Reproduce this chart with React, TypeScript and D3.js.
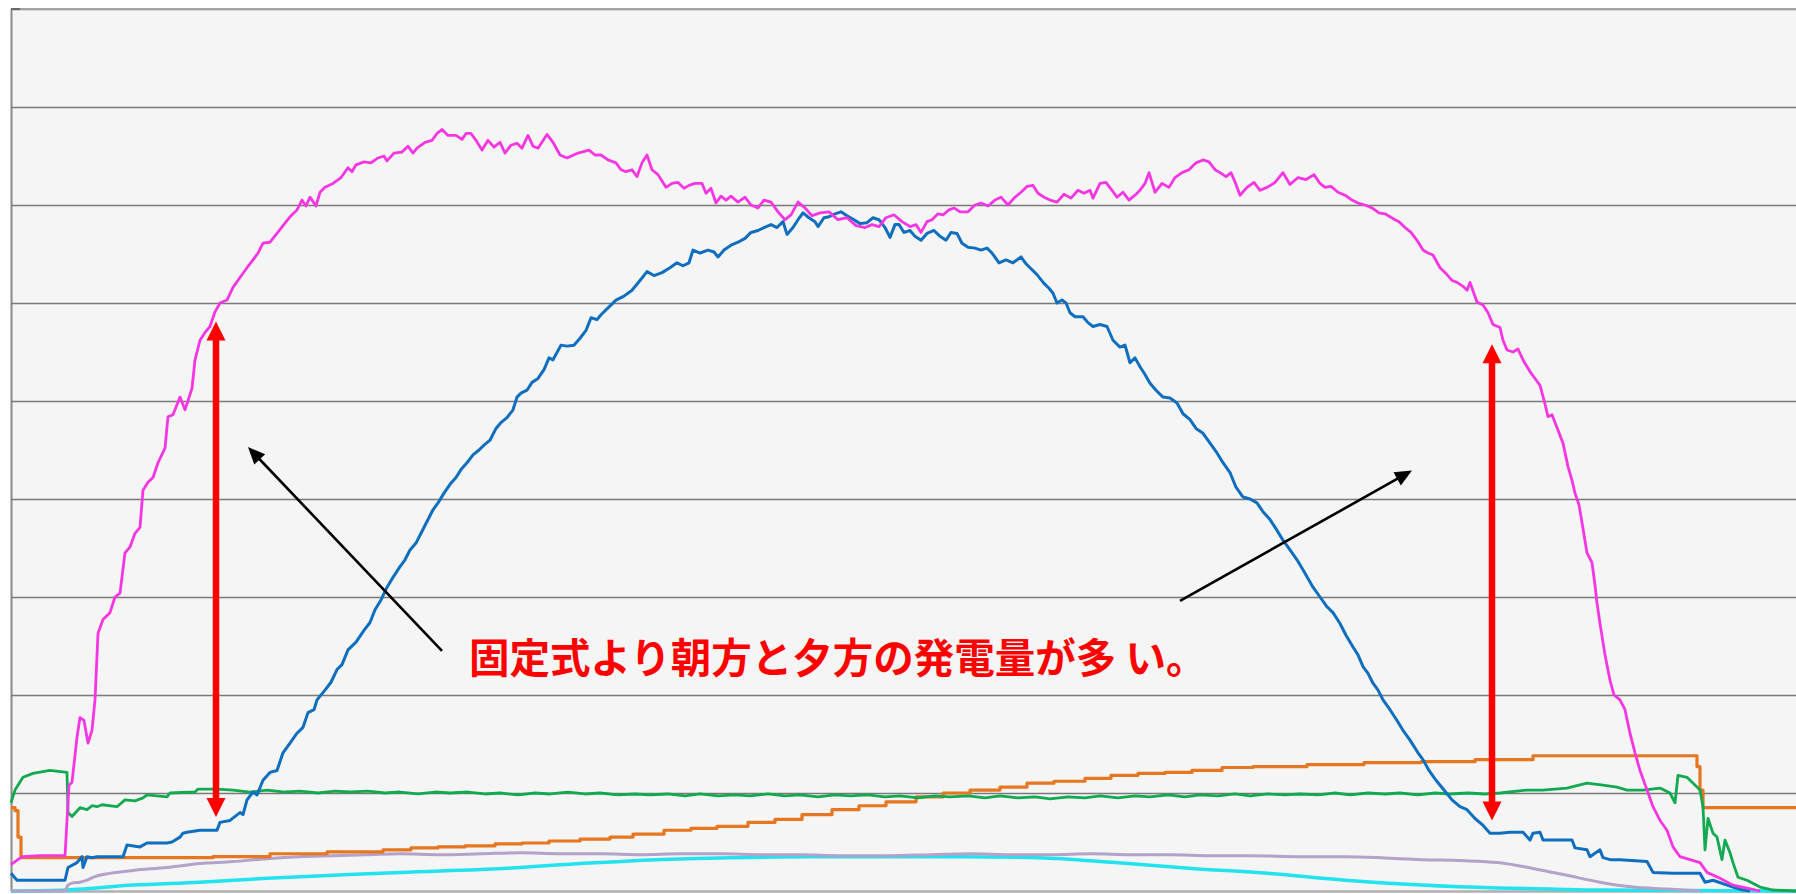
import React, { useEffect, useRef } from 'react';
import * as d3 from 'd3';

type Pt = [number, number]; // [logger sample, output kW]

// tracker (magenta)
const trackerOutput: Pt[] = [
  [0, 0.27], [11, 0.35], [29, 0.36], [54, 0.36], [58, 1.08], [61, 1.11], [66, 1.57], [69, 1.77], [73, 1.74], [77, 1.51],
  [81, 1.64], [84, 1.95], [87, 2.63], [92, 2.77], [99, 2.84], [104, 3.0], [109, 3.04], [114, 3.45], [119, 3.51], [124, 3.65],
  [129, 3.71], [132, 4.09], [137, 4.17], [142, 4.22], [147, 4.37], [154, 4.52], [157, 4.84], [162, 4.86], [169, 5.04], [174, 4.91],
  [181, 5.13], [184, 5.42], [189, 5.62], [194, 5.7], [199, 5.76], [204, 5.91], [209, 6.0], [216, 6.03], [222, 6.16], [229, 6.26],
  [236, 6.36], [242, 6.44], [247, 6.51], [252, 6.61], [259, 6.62], [266, 6.71], [272, 6.79], [279, 6.88], [286, 6.95], [291, 7.05],
  [295, 6.99], [299, 7.08], [305, 6.99], [309, 7.13], [314, 7.18], [322, 7.22], [330, 7.28], [337, 7.38], [341, 7.34], [345, 7.41],
  [353, 7.44], [360, 7.43], [367, 7.48], [373, 7.5], [376, 7.45], [383, 7.53], [391, 7.54], [397, 7.6], [402, 7.53], [406, 7.58],
  [414, 7.64], [421, 7.66], [426, 7.73], [431, 7.77], [437, 7.71], [445, 7.71], [451, 7.67], [455, 7.73], [460, 7.73], [465, 7.66],
  [471, 7.56], [477, 7.66], [483, 7.59], [489, 7.64], [494, 7.53], [500, 7.61], [506, 7.63], [511, 7.58], [517, 7.71], [522, 7.6],
  [527, 7.58], [536, 7.72], [542, 7.64], [549, 7.51], [556, 7.48], [567, 7.53], [578, 7.56], [584, 7.51], [590, 7.51], [597, 7.46],
  [605, 7.43], [610, 7.36], [615, 7.34], [621, 7.36], [626, 7.29], [631, 7.43], [636, 7.51], [641, 7.36], [647, 7.31], [655, 7.18],
  [661, 7.22], [667, 7.23], [673, 7.17], [678, 7.2], [684, 7.22], [691, 7.22], [695, 7.12], [700, 7.17], [705, 7.02], [710, 7.09],
  [715, 7.05], [720, 7.09], [727, 7.03], [734, 7.08], [740, 7.0], [747, 6.97], [753, 7.05], [760, 7.03], [767, 6.93], [774, 6.85],
  [780, 6.9], [787, 7.03], [794, 6.97], [801, 6.89], [809, 6.92], [818, 6.93], [827, 6.85], [836, 6.87], [845, 6.79], [854, 6.77],
  [861, 6.8], [868, 6.78], [875, 6.87], [883, 6.9], [891, 6.83], [899, 6.78], [905, 6.8], [910, 6.72], [916, 6.83], [921, 6.85],
  [927, 6.91], [932, 6.9], [938, 6.95], [943, 6.97], [949, 6.93], [957, 6.93], [964, 7.0], [970, 7.02], [977, 6.99], [984, 7.05],
  [990, 7.08], [997, 7.0], [1003, 7.07], [1010, 7.13], [1016, 7.19], [1022, 7.2], [1027, 7.12], [1033, 7.08], [1039, 7.05], [1046, 7.03],
  [1053, 7.11], [1060, 7.07], [1067, 7.15], [1073, 7.12], [1079, 7.15], [1082, 7.07], [1089, 7.22], [1095, 7.23], [1101, 7.15], [1106, 7.08],
  [1112, 7.13], [1118, 7.05], [1124, 7.1], [1129, 7.15], [1134, 7.22], [1138, 7.33], [1144, 7.13], [1151, 7.22], [1158, 7.18], [1164, 7.28],
  [1171, 7.33], [1178, 7.36], [1185, 7.43], [1192, 7.46], [1198, 7.44], [1204, 7.36], [1209, 7.33], [1215, 7.29], [1220, 7.33], [1225, 7.21],
  [1229, 7.1], [1236, 7.18], [1243, 7.23], [1249, 7.15], [1256, 7.18], [1264, 7.23], [1272, 7.33], [1279, 7.21], [1287, 7.28], [1295, 7.26],
  [1303, 7.31], [1309, 7.22], [1314, 7.18], [1320, 7.19], [1327, 7.13], [1334, 7.1], [1341, 7.05], [1347, 7.02], [1354, 7.0], [1361, 6.97],
  [1368, 6.92], [1374, 6.91], [1379, 6.88], [1384, 6.85], [1388, 6.83], [1394, 6.77], [1400, 6.72], [1406, 6.64], [1412, 6.54], [1417, 6.51],
  [1422, 6.49], [1429, 6.36], [1436, 6.29], [1441, 6.23], [1446, 6.21], [1452, 6.17], [1456, 6.13], [1459, 6.21], [1466, 6.01], [1472, 5.98],
  [1477, 5.9], [1482, 5.78], [1489, 5.75], [1492, 5.62], [1496, 5.52], [1502, 5.5], [1507, 5.53], [1513, 5.4], [1519, 5.3], [1524, 5.23],
  [1529, 5.16], [1533, 5.01], [1537, 4.84], [1541, 4.86], [1546, 4.73], [1552, 4.57], [1557, 4.33], [1561, 4.19], [1564, 4.06], [1568, 3.94],
  [1571, 3.76], [1576, 3.45], [1581, 3.35], [1584, 3.12], [1586, 2.94], [1589, 2.73], [1594, 2.41], [1599, 2.15], [1603, 2.0], [1609, 1.95],
  [1614, 1.85], [1619, 1.61], [1624, 1.41], [1629, 1.23], [1636, 1.03], [1642, 0.86], [1649, 0.72], [1656, 0.62], [1662, 0.45], [1669, 0.35],
  [1679, 0.32], [1689, 0.29], [1696, 0.19], [1709, 0.13], [1722, 0.06], [1736, 0.03], [1749, 0],
];

// fixed panel (blue)
const fixedOutput: Pt[] = [
  [0, 0.18], [6, 0.11], [22, 0.11], [54, 0.11], [57, 0.24], [66, 0.29], [71, 0.35], [72, 0.24], [76, 0.35], [81, 0.34],
  [86, 0.35], [112, 0.35], [116, 0.47], [129, 0.45], [136, 0.49], [156, 0.49], [161, 0.5], [169, 0.55], [172, 0.59], [176, 0.6],
  [189, 0.62], [206, 0.62], [209, 0.7], [219, 0.72], [229, 0.8], [232, 0.78], [236, 0.93], [242, 1.01], [246, 0.98], [252, 1.13],
  [259, 1.21], [266, 1.23], [272, 1.41], [279, 1.51], [286, 1.61], [292, 1.67], [297, 1.82], [303, 1.85], [306, 1.95], [314, 2.05],
  [320, 2.13], [326, 2.26], [331, 2.31], [337, 2.46], [345, 2.54], [353, 2.66], [359, 2.74], [364, 2.87], [370, 2.97], [376, 3.1],
  [382, 3.2], [389, 3.31], [394, 3.38], [399, 3.48], [405, 3.55], [410, 3.65], [416, 3.77], [422, 3.89], [427, 3.96], [433, 4.06],
  [439, 4.15], [445, 4.22], [450, 4.3], [456, 4.37], [462, 4.45], [468, 4.5], [473, 4.55], [479, 4.6], [485, 4.72], [490, 4.78],
  [496, 4.83], [502, 4.91], [506, 5.04], [510, 5.08], [516, 5.11], [521, 5.19], [527, 5.23], [533, 5.32], [538, 5.44], [542, 5.42],
  [550, 5.57], [556, 5.56], [563, 5.57], [569, 5.64], [575, 5.72], [580, 5.85], [586, 5.83], [590, 5.88], [597, 5.95], [605, 6.03],
  [613, 6.07], [621, 6.13], [629, 6.23], [636, 6.32], [643, 6.28], [651, 6.31], [659, 6.36], [666, 6.41], [672, 6.38], [678, 6.41],
  [682, 6.54], [689, 6.51], [697, 6.54], [703, 6.52], [707, 6.47], [713, 6.54], [720, 6.59], [727, 6.62], [734, 6.66], [740, 6.72],
  [747, 6.74], [753, 6.77], [760, 6.8], [766, 6.77], [772, 6.83], [776, 6.7], [782, 6.77], [787, 6.85], [792, 6.92], [798, 6.87],
  [804, 6.83], [807, 6.78], [813, 6.87], [818, 6.88], [824, 6.91], [830, 6.93], [836, 6.89], [843, 6.85], [849, 6.81], [856, 6.82],
  [862, 6.87], [868, 6.85], [874, 6.77], [879, 6.67], [884, 6.8], [888, 6.8], [893, 6.72], [899, 6.74], [904, 6.68], [910, 6.64],
  [916, 6.71], [923, 6.74], [929, 6.68], [935, 6.64], [940, 6.72], [946, 6.71], [951, 6.61], [957, 6.57], [964, 6.56], [970, 6.54],
  [976, 6.56], [981, 6.51], [988, 6.41], [995, 6.44], [1002, 6.41], [1010, 6.47], [1015, 6.4], [1019, 6.36], [1026, 6.29], [1033, 6.2],
  [1038, 6.15], [1042, 6.1], [1046, 6.0], [1051, 6.03], [1055, 6.0], [1059, 5.9], [1064, 5.86], [1072, 5.86], [1077, 5.8], [1082, 5.76],
  [1089, 5.78], [1096, 5.76], [1102, 5.62], [1109, 5.55], [1114, 5.57], [1119, 5.39], [1124, 5.44], [1129, 5.35], [1134, 5.27], [1139, 5.18],
  [1145, 5.11], [1152, 5.04], [1159, 5.03], [1166, 4.98], [1172, 4.87], [1179, 4.81], [1185, 4.72], [1192, 4.67], [1199, 4.57], [1206, 4.47],
  [1212, 4.37], [1219, 4.27], [1225, 4.12], [1232, 4.02], [1239, 4.0], [1246, 3.96], [1252, 3.87], [1259, 3.79], [1266, 3.68], [1272, 3.58],
  [1279, 3.48], [1286, 3.38], [1293, 3.26], [1302, 3.1], [1309, 3.0], [1316, 2.9], [1322, 2.84], [1329, 2.73], [1335, 2.61], [1342, 2.49],
  [1347, 2.41], [1352, 2.29], [1357, 2.22], [1362, 2.12], [1367, 2.05], [1372, 1.95], [1379, 1.85], [1386, 1.74], [1392, 1.64], [1399, 1.54],
  [1407, 1.41], [1412, 1.34], [1418, 1.23], [1425, 1.13], [1433, 1.03], [1441, 0.93], [1449, 0.86], [1456, 0.83], [1464, 0.74], [1471, 0.68],
  [1479, 0.59], [1489, 0.59], [1499, 0.6], [1512, 0.6], [1519, 0.52], [1522, 0.59], [1529, 0.6], [1532, 0.52], [1549, 0.52], [1561, 0.52],
  [1564, 0.44], [1576, 0.42], [1579, 0.35], [1589, 0.42], [1592, 0.34], [1599, 0.32], [1609, 0.32], [1636, 0.3], [1642, 0.19], [1662, 0.18],
  [1689, 0.18], [1694, 0.09], [1702, 0.11], [1722, 0.04], [1732, 0.01], [1739, 0],
];

// green
const ratioSeries: Pt[] = [
  [0, 0.9], [4, 1.03], [12, 1.16], [22, 1.2], [39, 1.23], [56, 1.21], [57, 0.8], [61, 0.76], [69, 0.85], [76, 0.83],
  [81, 0.87], [86, 0.86], [91, 0.88], [106, 0.86], [114, 0.93], [124, 0.92], [132, 0.95], [136, 0.98], [156, 0.96], [159, 1.0],
  [184, 1.01], [187, 1.04], [206, 1.04], [222, 1.03], [239, 1.01], [256, 1.03], [274, 1.01], [289, 1.02], [307, 1.0], [324, 1.02],
  [339, 1.01], [357, 1.02], [374, 1.0], [389, 1.01], [407, 0.99], [424, 1.01], [439, 1.0], [457, 1.01], [474, 0.99], [489, 1.0],
  [507, 0.98], [524, 1.0], [539, 0.99], [557, 1.01], [574, 0.99], [589, 1.0], [607, 0.98], [624, 0.99], [639, 0.98], [657, 0.99],
  [674, 0.97], [689, 0.99], [707, 0.97], [724, 0.98], [739, 0.97], [757, 0.99], [774, 0.97], [789, 0.98], [807, 0.96], [824, 0.98],
  [839, 0.97], [857, 0.98], [874, 0.96], [889, 0.97], [907, 0.95], [924, 0.97], [939, 0.96], [957, 0.97], [974, 0.95], [989, 0.97],
  [1007, 0.95], [1024, 0.96], [1039, 0.94], [1057, 0.96], [1074, 0.95], [1089, 0.97], [1107, 0.95], [1124, 0.97], [1139, 0.96], [1157, 0.98],
  [1174, 0.96], [1189, 0.98], [1207, 0.97], [1224, 0.99], [1239, 0.97], [1257, 0.99], [1274, 0.98], [1289, 0.99], [1307, 0.98], [1324, 1.0],
  [1339, 0.98], [1357, 1.0], [1374, 0.99], [1389, 1.0], [1407, 0.98], [1424, 1.0], [1439, 0.99], [1457, 1.0], [1474, 0.99], [1489, 1.0],
  [1516, 1.03], [1532, 1.03], [1556, 1.05], [1576, 1.1], [1592, 1.08], [1606, 1.06], [1616, 1.03], [1632, 1.03], [1649, 1.05], [1659, 1.0],
  [1664, 0.9], [1667, 1.18], [1676, 1.16], [1686, 1.06], [1689, 1.03], [1692, 0.86], [1694, 0.42], [1697, 0.74], [1702, 0.59], [1706, 0.55],
  [1711, 0.32], [1714, 0.52], [1719, 0.39], [1722, 0.29], [1727, 0.14], [1736, 0.11], [1749, 0.04], [1762, 0.01], [1785, 0],
];

// orange, stepped counter
const stepSeries: Pt[] = [
  [0, 0.85], [4, 0.82], [7, 0.55], [10, 0.34], [202, 0.35], [259, 0.38], [316, 0.4], [372, 0.42], [400, 0.44], [427, 0.45],
  [454, 0.46], [484, 0.48], [511, 0.49], [538, 0.51], [569, 0.53], [599, 0.55], [622, 0.58], [653, 0.62], [680, 0.64], [706, 0.66],
  [737, 0.7], [764, 0.73], [791, 0.78], [821, 0.83], [848, 0.87], [875, 0.91], [905, 0.96], [932, 1.0], [959, 1.03], [989, 1.06],
  [1016, 1.1], [1043, 1.12], [1074, 1.15], [1100, 1.18], [1127, 1.2], [1154, 1.21], [1181, 1.23], [1211, 1.26], [1242, 1.27], [1296, 1.29],
  [1353, 1.31], [1410, 1.32], [1464, 1.34], [1522, 1.38], [1686, 1.27], [1689, 1.03], [1692, 0.85], [1785, 0.85],
];

// lavender
const lavenderSeries: Pt[] = [
  [0, 0], [54, 0], [57, 0.06], [61, 0.08], [69, 0.09], [76, 0.11], [82, 0.14], [99, 0.18], [122, 0.21], [156, 0.24],
  [189, 0.28], [222, 0.3], [256, 0.33], [289, 0.35], [322, 0.36], [356, 0.37], [389, 0.38], [430, 0.37], [470, 0.38], [510, 0.39],
  [550, 0.38], [590, 0.38], [630, 0.37], [670, 0.38], [710, 0.38], [750, 0.37], [790, 0.37], [830, 0.36], [875, 0.36], [920, 0.37],
  [960, 0.38], [1000, 0.37], [1040, 0.37], [1080, 0.38], [1120, 0.37], [1160, 0.37], [1200, 0.36], [1240, 0.36], [1290, 0.35], [1334, 0.35],
  [1370, 0.34], [1410, 0.32], [1450, 0.31], [1487, 0.29], [1522, 0.23], [1556, 0.16], [1589, 0.09], [1622, 0.04], [1656, 0.02], [1689, 0],
];

// cyan
const cyanSeries: Pt[] = [
  [0, 0], [56, 0.01], [122, 0.06], [189, 0.09], [256, 0.13], [322, 0.16], [389, 0.19], [492, 0.23], [569, 0.28], [645, 0.32],
  [722, 0.34], [798, 0.35], [875, 0.35], [951, 0.35], [1028, 0.34], [1104, 0.29], [1181, 0.23], [1257, 0.18], [1334, 0.11], [1410, 0.06],
  [1487, 0.03], [1539, 0.02], [1589, 0.01], [1785, 0],
];

const gridValues = [1, 2, 3, 4, 5, 6, 7, 8, 9];

// annotations, in data units
const doubleArrows = [
  { x: 205, low: 0.755, high: 5.81 },
  { x: 1481, low: 0.72, high: 5.58 },
];
const pointers = [
  { x1: 431, y1: 2.45, x2: 237, y2: 4.53 },
  { x1: 1169, y1: 2.96, x2: 1401, y2: 4.29 },
];
const note = { x: 458, y: 2.4, text: '固定式より朝方と夕方の発電量が多 い。' };

const W = 1796;
const H = 894;
const margin = { top: 9, right: 0, bottom: 3, left: 11 };

const headPoints = (x1: number, y1: number, x2: number, y2: number, len: number, half: number) => {
  const dx = x2 - x1;
  const dy = y2 - y1;
  const d = Math.hypot(dx, dy);
  const ux = dx / d;
  const uy = dy / d;
  const bx = x2 - ux * len;
  const by = y2 - uy * len;
  return [
    [x2, y2],
    [bx - uy * half, by + ux * half],
    [bx + uy * half, by - ux * half],
  ]
    .map((p) => p.join(','))
    .join(' ');
};

export default function App() {
  const ref = useRef<SVGSVGElement>(null);

  useEffect(() => {
    if (!ref.current) return;
    const svg = d3.select(ref.current);
    svg.selectAll('*').remove();

    const innerW = W - margin.left - margin.right;
    const innerH = H - margin.top - margin.bottom;

    const x = d3.scaleLinear().domain([0, 1785]).range([margin.left, W - margin.right]);
    const y = d3.scaleLinear().domain([0, 9]).range([H - margin.bottom, margin.top]);

    svg.append('rect').attr('width', W).attr('height', H).attr('fill', '#ffffff');
    svg
      .append('rect')
      .attr('x', margin.left)
      .attr('y', margin.top)
      .attr('width', innerW)
      .attr('height', innerH)
      .attr('fill', '#f5f5f5');

    // gridlines
    svg
      .append('g')
      .attr('transform', `translate(${margin.left},0)`)
      .call(
        d3
          .axisLeft(y)
          .tickValues(gridValues)
          .tickSizeInner(-innerW)
          .tickSizeOuter(0)
          .tickFormat(() => '')
      )
      .call((g) => g.select('.domain').attr('stroke', '#8a8a8a').attr('stroke-width', 2))
      .call((g) => g.selectAll('.tick line').attr('stroke', '#7a7a7a').attr('stroke-width', 1.4));

    // frame top / bottom
    svg
      .append('line')
      .attr('x1', margin.left)
      .attr('x2', W)
      .attr('y1', y(9))
      .attr('y2', y(9))
      .attr('stroke', '#a3a3a3')
      .attr('stroke-width', 2.2);
    svg
      .append('line')
      .attr('x1', margin.left)
      .attr('x2', margin.left + 9)
      .attr('y1', y(9))
      .attr('y2', y(9))
      .attr('stroke', '#555')
      .attr('stroke-width', 1.5);
    svg
      .append('line')
      .attr('x1', margin.left)
      .attr('x2', W)
      .attr('y1', y(0) + 0.5)
      .attr('y2', y(0) + 0.5)
      .attr('stroke', '#b0b0b0')
      .attr('stroke-width', 2.5);

    const line = d3
      .line<Pt>()
      .x((d) => x(d[0]))
      .y((d) => y(d[1]));

    const series = [
      { data: cyanSeries, color: '#22e3ef', width: 3.5, curve: d3.curveMonotoneX },
      { data: lavenderSeries, color: '#b3a2c9', width: 3, curve: d3.curveMonotoneX },
      { data: stepSeries, color: '#e6761f', width: 3.2, curve: d3.curveStepAfter },
      { data: ratioSeries, color: '#12aa50', width: 2.8, curve: d3.curveLinear },
      { data: fixedOutput, color: '#0f6fbe', width: 3, curve: d3.curveLinear },
      { data: trackerOutput, color: '#f536e2', width: 2.8, curve: d3.curveLinear },
    ];

    const plot = svg.append('g');
    series.forEach((s) => {
      plot
        .append('path')
        .datum(s.data)
        .attr('fill', 'none')
        .attr('stroke', s.color)
        .attr('stroke-width', s.width)
        .attr('stroke-linejoin', 'round')
        .attr('d', line.curve(s.curve)(s.data) as string);
    });

    // black pointer arrows
    const ann = svg.append('g');
    pointers.forEach((p) => {
      const x1 = x(p.x1);
      const y1 = y(p.y1);
      const x2 = x(p.x2);
      const y2 = y(p.y2);
      const d = Math.hypot(x2 - x1, y2 - y1);
      const ex = x2 - ((x2 - x1) / d) * 12;
      const ey = y2 - ((y2 - y1) / d) * 12;
      ann
        .append('line')
        .attr('x1', x1)
        .attr('y1', y1)
        .attr('x2', ex)
        .attr('y2', ey)
        .attr('stroke', '#000')
        .attr('stroke-width', 2.6);
      ann.append('polygon').attr('points', headPoints(x1, y1, x2, y2, 17, 7.5)).attr('fill', '#000');
    });

    // red double arrows
    doubleArrows.forEach((a) => {
      const xx = x(a.x);
      const top = y(a.high);
      const bottom = y(a.low);
      ann
        .append('line')
        .attr('x1', xx)
        .attr('x2', xx)
        .attr('y1', top + 16)
        .attr('y2', bottom - 16)
        .attr('stroke', '#ff0000')
        .attr('stroke-width', 6.5);
      ann.append('polygon').attr('points', headPoints(xx, bottom, xx, top, 19, 9.5)).attr('fill', '#ff0000');
      ann.append('polygon').attr('points', headPoints(xx, top, xx, bottom, 19, 9.5)).attr('fill', '#ff0000');
    });

    ann
      .append('text')
      .attr('x', x(note.x))
      .attr('y', y(note.y))
      .attr('dominant-baseline', 'central')
      .attr('fill', '#ff0000')
      .attr('font-family', "'Noto Sans CJK JP', sans-serif")
      .attr('font-weight', 'bold')
      .attr('font-size', '40.5px')
      .text(note.text);
  }, []);

  return (
    <svg
      ref={ref}
      width={W}
      height={H}
      style={{ position: 'absolute', left: 0, top: 0, display: 'block' }}
    />
  );
}
